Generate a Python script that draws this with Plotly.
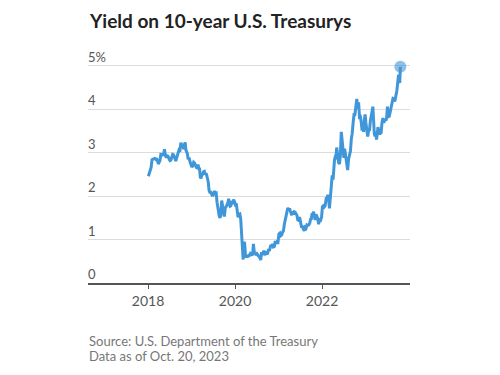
import pandas as pd
import plotly.graph_objects as go

# Weekly-ish 10-year Treasury yields (%), grouped by month
y2018 = [[2.46, 2.55, 2.64, 2.66], [2.84, 2.85, 2.87, 2.87], [2.86, 2.84, 2.85, 2.82, 2.74],
         [2.77, 2.82, 2.96, 2.96], [2.95, 2.97, 3.08, 2.93], [2.89, 2.94, 2.92, 2.90, 2.85],
         [2.82, 2.83, 2.89, 2.96], [2.95, 2.87, 2.86, 2.81, 2.86], [2.94, 3.00, 3.07, 3.06],
         [3.23, 3.16, 3.20, 3.08], [3.21, 3.24, 3.06, 3.03, 2.98], [2.85, 2.89, 2.79, 2.72]]
y2019 = [[2.67, 2.70, 2.78, 2.76], [2.70, 2.66, 2.65, 2.73], [2.64, 2.63, 2.44, 2.41, 2.49],
         [2.50, 2.56, 2.57, 2.50], [2.53, 2.47, 2.39, 2.32, 2.14], [2.09, 2.09, 2.06, 2.00],
         [2.04, 2.12, 2.06, 2.07], [1.86, 1.75, 1.55, 1.54, 1.50], [1.56, 1.90, 1.74, 1.69],
         [1.53, 1.73, 1.76, 1.80], [1.86, 1.94, 1.83, 1.77, 1.78], [1.84, 1.82, 1.92, 1.88]]
y2020 = [[1.81, 1.83, 1.70, 1.51], [1.58, 1.59, 1.47, 1.13], [0.76, 0.54, 0.94, 0.92, 0.68],
         [0.59, 0.64, 0.60, 0.64], [0.64, 0.68, 0.66, 0.65, 0.66], [0.90, 0.70, 0.69, 0.64],
         [0.67, 0.64, 0.62, 0.59], [0.53, 0.71, 0.64, 0.72], [0.72, 0.67, 0.69, 0.66],
         [0.70, 0.78, 0.74, 0.84, 0.88], [0.83, 0.90, 0.83, 0.84], [0.97, 0.90, 0.95, 0.94]]
y2021 = [[1.13, 1.15, 1.09, 1.11], [1.17, 1.20, 1.34, 1.44], [1.57, 1.63, 1.73, 1.67],
         [1.72, 1.66, 1.58, 1.56, 1.65], [1.58, 1.64, 1.63, 1.59], [1.56, 1.45, 1.44, 1.52],
         [1.44, 1.30, 1.30, 1.24], [1.20, 1.28, 1.26, 1.34], [1.33, 1.34, 1.37, 1.47],
         [1.48, 1.61, 1.59, 1.64, 1.56], [1.45, 1.58, 1.54, 1.48], [1.35, 1.49, 1.41, 1.45, 1.52]]
y2022 = [[1.76, 1.78, 1.75, 1.78], [1.93, 1.92, 2.03, 1.97], [1.72, 2.00, 2.15, 2.48],
         [2.38, 2.72, 2.83, 2.90, 2.89], [3.12, 2.93, 2.78, 2.74], [2.94, 3.48, 3.23, 3.13],
         [2.88, 3.09, 2.93, 2.78, 2.67], [2.60, 2.85, 2.98, 3.04], [3.32, 3.45, 3.69, 3.88],
         [3.88, 4.01, 4.24, 4.02], [4.16, 3.82, 3.83, 3.69], [3.51, 3.58, 3.48, 3.75, 3.88]]
y2023 = [[3.69, 3.51, 3.37, 3.52], [3.53, 3.74, 3.82, 3.95], [4.06, 3.70, 3.43, 3.38, 3.48],
         [3.30, 3.52, 3.59, 3.50, 3.44], [3.44, 3.46, 3.70, 3.80], [3.69, 3.74, 3.77, 3.74, 3.81],
         [4.06, 3.83, 3.84, 3.96], [4.05, 4.16, 4.25, 4.24], [4.18, 4.26, 4.33, 4.44, 4.59],
         [4.80, 4.63, 4.61, 4.98]]
years = [2018, 2019, 2020, 2021, 2022, 2023]
last_date = "2023-10-20"

y_ticks = [0, 1, 2, 3, 4, 5]
y_tick_labels = ["0", "1", "2", "3", "4", "5%"]
x_ticks = ["2018-01-01", "2020-01-01", "2022-01-01"]
x_tick_labels = ["2018", "2020", "2022"]

# Build date/value series
dates, vals = [], []
end_ts = pd.Timestamp(last_date)
for yr, months in zip(years, [y2018, y2019, y2020, y2021, y2022, y2023]):
    for mi, wk in enumerate(months):
        start = pd.Timestamp(year=yr, month=mi + 1, day=1)
        nxt = start + pd.offsets.MonthBegin(1)
        n = len(wk)
        if start.year == end_ts.year and start.month == end_ts.month:
            span = (end_ts - start).days + 1
            for i, v in enumerate(wk):
                dates.append(start + pd.Timedelta(days=span * (i + 1) / n - 1))
                vals.append(v)
        else:
            span = (nxt - start).days
            for i, v in enumerate(wk):
                dates.append(start + pd.Timedelta(days=span * (i + 0.35) / n))
                vals.append(v)

LINE = "#3f96d8"
FONT = "Lato"

fig = go.Figure()
fig.add_trace(go.Scatter(x=dates, y=vals, mode="lines",
                         line=dict(color=LINE, width=3), hoverinfo="skip"))
fig.add_trace(go.Scatter(x=[dates[-1]], y=[vals[-1]], mode="markers",
                         marker=dict(color=LINE, size=12, opacity=0.6), hoverinfo="skip"))

for v, t in zip(y_ticks, y_tick_labels):
    fig.add_annotation(x=0, xref="paper", y=v, yref="y", text=t, showarrow=False,
                       xanchor="left", yanchor="middle", yshift=9, xshift=-2,
                       font=dict(family=FONT, size=13, color="#555"))

fig.add_annotation(x=0, xref="paper", y=0, yref="paper",
                   text="Source: U.S. Department of the Treasury",
                   showarrow=False, xanchor="left", yanchor="middle", yshift=-58, xshift=-1,
                   font=dict(family=FONT, size=13, color="#777"))
fig.add_annotation(x=0, xref="paper", y=0, yref="paper",
                   text="Data as of Oct. 20, 2023",
                   showarrow=False, xanchor="left", yanchor="middle", yshift=-73, xshift=-1,
                   font=dict(family=FONT, size=13, color="#777"))

fig.update_layout(
    width=500, height=375,
    margin=dict(l=80, r=98, t=47, b=100),
    paper_bgcolor="white", plot_bgcolor="white",
    showlegend=False,
    title=dict(text="<b>Yield on 10-year U.S. Treasurys</b>", xref="container", yref="container",
               x=82 / 500, xanchor="left", y=1 - 13 / 375, yanchor="middle",
               font=dict(family=FONT, size=19, color="#222")),
    xaxis=dict(type="date", range=["2016-08-15", "2024-01-09"],
               tickvals=x_ticks, ticktext=x_tick_labels,
               showgrid=False, showline=True, linecolor="#555", linewidth=1.5,
               ticks="outside", ticklen=4, tickcolor="#555", tickwidth=1,
               tickfont=dict(family=FONT, size=14, color="#555"), zeroline=False),
    yaxis=dict(range=[0, 5.25], tickvals=y_ticks, showticklabels=False,
               showgrid=True, gridcolor="#dcdcdc", gridwidth=1, zeroline=False, showline=False),
)

fig.write_html("out.html")
